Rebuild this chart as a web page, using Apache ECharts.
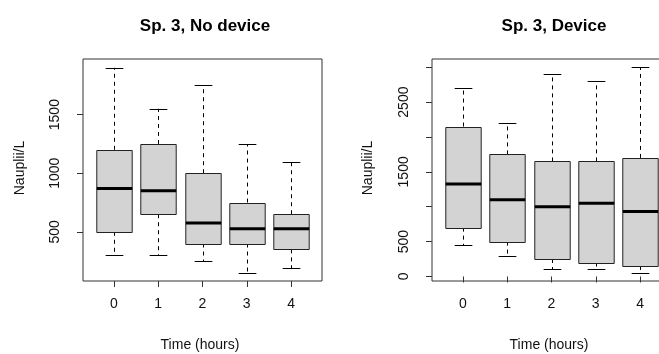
<!DOCTYPE html>
<html>
<head>
<meta charset="utf-8">
<script src="https://cdn.jsdelivr.net/npm/echarts@6/dist/echarts.min.js"></script>
<style>
html,body{margin:0;padding:0;background:#fff;}
#chart{width:659px;height:354px;}
</style>
</head>
<body>
<div id="chart"></div>
<script>
const categories = ['0', '1', '2', '3', '4'];
const noDevLow  = [300, 300, 250, 150, 190];
const noDevQ1   = [500, 650, 400, 400, 350];
const noDevMed  = [870, 850, 575, 525, 525];
const noDevQ3   = [1200, 1250, 1000, 750, 650];
const noDevHigh = [1900, 1550, 1750, 1250, 1100];
const devLow  = [450, 300, 100, 100, 50];
const devQ1   = [700, 500, 250, 200, 150];
const devMed  = [1325, 1100, 1000, 1050, 930];
const devQ3   = [2150, 1750, 1650, 1650, 1700];
const devHigh = [2700, 2200, 2900, 2800, 3000];
const noDevYTicks = [500, 1000, 1500];
const noDevYLabels = [500, 1000, 1500];
const devYTicks = [0, 500, 1000, 1500, 2000, 2500, 3000];
const devYLabels = [0, 500, 1500, 2500];
const xPositions = [1, 2, 3, 4, 5];

const FONT = '"Liberation Sans", Arial, sans-serif';

function build(low, q1, med, q3, high) {
  return xPositions.map((x, i) => [x, low[i], q1[i], med[i], q3[i], high[i]]);
}

function renderItem(params, api) {
  const x = api.value(0);
  const lo = api.coord([x, api.value(1)]);
  const b1 = api.coord([x, api.value(2)]);
  const md = api.coord([x, api.value(3)]);
  const b3 = api.coord([x, api.value(4)]);
  const hi = api.coord([x, api.value(5)]);
  const bw = api.size([0.8, 0])[0];
  const sw = bw / 2;
  const cx = Math.round(lo[0]) + 0.5;
  const dashed = { stroke: '#000', lineWidth: 1, lineDash: [4, 4] };
  const solid = { stroke: '#000', lineWidth: 1 };
  return {
    type: 'group',
    children: [
      { type: 'line', shape: { x1: cx, y1: b3[1], x2: cx, y2: hi[1] }, style: dashed },
      { type: 'line', shape: { x1: cx, y1: b1[1], x2: cx, y2: lo[1] }, style: dashed },
      { type: 'line', shape: { x1: cx - sw / 2, y1: Math.round(hi[1]) + 0.5, x2: cx + sw / 2, y2: Math.round(hi[1]) + 0.5 }, style: solid },
      { type: 'line', shape: { x1: cx - sw / 2, y1: Math.round(lo[1]) + 0.5, x2: cx + sw / 2, y2: Math.round(lo[1]) + 0.5 }, style: solid },
      { type: 'rect', shape: { x: cx - bw / 2, y: Math.round(b3[1]) + 0.5, width: bw, height: Math.round(b1[1]) - Math.round(b3[1]) },
        style: { fill: '#d3d3d3', stroke: '#222', lineWidth: 1 } },
      { type: 'line', shape: { x1: cx - bw / 2, y1: md[1], x2: cx + bw / 2, y2: md[1] }, style: { stroke: '#000', lineWidth: 3 } }
    ]
  };
}

function xAxisDef(gridIndex) {
  return {
    gridIndex, type: 'value', min: 0.3, max: 5.7,
    axisLine: { show: false },
    splitLine: { show: false },
    axisTick: { show: true, customValues: xPositions, length: 6, inside: false, lineStyle: { color: '#333' } },
    axisLabel: { show: true, customValues: xPositions, margin: 16, formatter: v => categories[Math.round(v) - 1],
      color: '#111', fontSize: 14, fontFamily: FONT }
  };
}
function yAxisDef(gridIndex, min, max, ticks, labels) {
  return {
    gridIndex, type: 'value', min, max,
    axisLine: { show: false },
    splitLine: { show: false },
    axisTick: { show: true, customValues: ticks, length: 6, inside: false, lineStyle: { color: '#333' } },
    axisLabel: { show: true, customValues: labels, rotate: 90, margin: 21, formatter: v => String(v),
      color: '#111', fontSize: 14, fontFamily: FONT }
  };
}

const chart = echarts.init(document.getElementById('chart'), null, { renderer: 'canvas' });
chart.setOption({
  backgroundColor: '#fff',
  animation: false,
  title: [
    { text: 'Sp. 3, No device', left: 200, top: 13, textAlign: 'center',
      textStyle: { fontSize: 17, fontWeight: 'bold', color: '#000', fontFamily: FONT } },
    { text: 'Sp. 3, Device', left: 549, top: 13, textAlign: 'center',
      textStyle: { fontSize: 17, fontWeight: 'bold', color: '#000', fontFamily: FONT } }
  ],
  grid: [
    { left: 83, top: 59, width: 239, height: 222, show: true, borderColor: '#333', borderWidth: 1, backgroundColor: 'transparent', containLabel: false, outerBoundsMode: 'none' },
    { left: 432, top: 59, width: 239, height: 222, show: true, borderColor: '#333', borderWidth: 1, backgroundColor: 'transparent', containLabel: false, outerBoundsMode: 'none' }
  ],
  xAxis: [xAxisDef(0), xAxisDef(1)],
  yAxis: [
    yAxisDef(0, 80, 1975, noDevYTicks, noDevYLabels),
    yAxisDef(1, -65, 3118, devYTicks, devYLabels)
  ],
  graphic: [
    { type: 'text', x: 200, y: 345, style: { text: 'Time (hours)', fontSize: 14, fontFamily: FONT, fill: '#111', textAlign: 'center', textVerticalAlign: 'middle' } },
    { type: 'text', x: 549, y: 345, style: { text: 'Time (hours)', fontSize: 14, fontFamily: FONT, fill: '#111', textAlign: 'center', textVerticalAlign: 'middle' } },
    { type: 'text', x: 20, y: 168, rotation: Math.PI / 2, style: { text: 'Nauplii/L', fontSize: 14, fontFamily: FONT, fill: '#111', textAlign: 'center', textVerticalAlign: 'middle' } },
    { type: 'text', x: 368, y: 168, rotation: Math.PI / 2, style: { text: 'Nauplii/L', fontSize: 14, fontFamily: FONT, fill: '#111', textAlign: 'center', textVerticalAlign: 'middle' } }
  ],
  series: [
    { type: 'custom', xAxisIndex: 0, yAxisIndex: 0, renderItem, data: build(noDevLow, noDevQ1, noDevMed, noDevQ3, noDevHigh), clip: false },
    { type: 'custom', xAxisIndex: 1, yAxisIndex: 1, renderItem, data: build(devLow, devQ1, devMed, devQ3, devHigh), clip: false }
  ]
});
</script>
</body>
</html>
